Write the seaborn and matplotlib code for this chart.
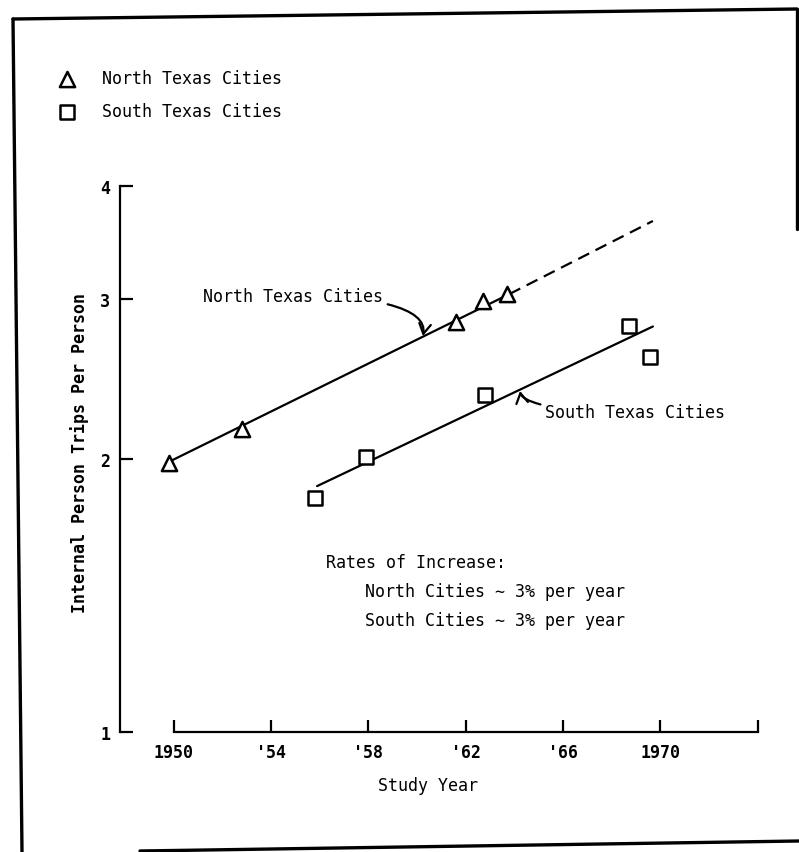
import numpy as np
import pandas as pd
import matplotlib
matplotlib.use("Agg")
import matplotlib.pyplot as plt
from matplotlib.lines import Line2D
from matplotlib.ticker import NullLocator
import seaborn as sns

# ---- data ----
north_years = [1949.8, 1952.8, 1961.6, 1962.7, 1963.7]
north_trips = [1.98, 2.16, 2.83, 2.99, 3.04]
south_years = [1955.8, 1957.9, 1962.8, 1968.7, 1969.6]
south_trips = [1.81, 2.01, 2.35, 2.80, 2.59]

north_fit_years = [1949.8, 1963.8]
north_fit_trips = [1.985, 3.04]
north_proj_years = [1963.8, 1969.7]
north_proj_trips = [3.04, 3.66]
south_fit_years = [1955.9, 1969.7]
south_fit_trips = [1.867, 2.80]

x_ticks = [1950, 1954, 1958, 1962, 1966, 1970, 1974]
x_tick_labels = ["1950", "'54", "'58", "'62", "'66", "1970", ""]
y_ticks = [1, 2, 3, 4]
y_tick_labels = ["1", "2", "3", "4"]

sns.set_style("ticks")
plt.rcParams["font.family"] = ["DejaVu Sans Mono", "DejaVu Sans"]
plt.rcParams["text.color"] = "black"
plt.rcParams["axes.labelcolor"] = "black"
plt.rcParams["xtick.color"] = "black"
plt.rcParams["ytick.color"] = "black"

W, H = 799, 853
fig = plt.figure(figsize=(W / 100, H / 100), dpi=100)
ax = fig.add_axes([120 / W, 1 - 733 / H, 649.7 / W, 546 / H])
ax.set_yscale("log")

north_df = pd.DataFrame({"year": north_years, "trips": north_trips})
south_df = pd.DataFrame({"year": south_years, "trips": south_trips})

lw = 1.6
sns.lineplot(x=north_fit_years, y=north_fit_trips, ax=ax, color="black", lw=lw)
sns.lineplot(x=north_proj_years, y=north_proj_trips, ax=ax, color="black", lw=lw,
             linestyle=(0, (5.5, 3.2)))
sns.lineplot(x=south_fit_years, y=south_fit_trips, ax=ax, color="black", lw=lw)

sns.scatterplot(data=north_df, x="year", y="trips", ax=ax, marker="^", s=120,
                facecolors="white", edgecolor="black", linewidth=1.8,
                label="North Texas Cities", zorder=5)
sns.scatterplot(data=south_df, x="year", y="trips", ax=ax, marker="s", s=100,
                facecolors="white", edgecolor="black", linewidth=1.8,
                label="South Texas Cities", zorder=5)

ax.set_xlim(1947.8, 1974.5)
ax.set_ylim(1, 4)
ax.set_xticks(x_ticks)
ax.set_xticklabels(x_tick_labels, fontweight="bold")
ax.set_yticks(y_ticks)
ax.set_yticklabels(y_tick_labels, fontweight="bold")
ax.yaxis.set_minor_locator(NullLocator())
ax.xaxis.set_minor_locator(NullLocator())

for s in ["top", "right"]:
    ax.spines[s].set_visible(False)
ax.spines["left"].set_bounds(1, 4)
ax.spines["bottom"].set_bounds(1950, 1974)
for s in ["left", "bottom"]:
    ax.spines[s].set_linewidth(1.6)
    ax.spines[s].set_color("black")
ax.tick_params(axis="both", direction="in", length=9, width=1.6,
               labelsize=12, colors="black")
ax.tick_params(axis="x", pad=8)
ax.tick_params(axis="y", pad=7)

ax.set_xlabel("Study Year", fontsize=12)
ax.set_ylabel("Internal Person Trips Per Person", fontsize=12, fontweight="bold")
ax.xaxis.set_label_coords((428 - 120) / 649.7, (733 - 777) / 546)
ax.yaxis.set_label_coords((89 - 120) / 649.7, (733 - 453) / 546)

# legend
leg = ax.legend(loc="upper left", bbox_to_anchor=(58.7 / W, 1 - 70 / H),
                bbox_transform=fig.transFigure, frameon=False, fontsize=12,
                handlelength=1.0, handletextpad=1.6, labelspacing=0.9,
                borderpad=0, borderaxespad=0)
for t in leg.get_texts():
    t.set_color("black")

# annotations
arrow_style = "->,head_length=0.6,head_width=0.35"
ax.annotate("North Texas Cities", xy=(1960.25, 2.733), xytext=(1958.61, 3.025),
            ha="right", va="center", fontsize=12,
            arrowprops=dict(arrowstyle=arrow_style,
                            color="black", lw=1.6,
                            connectionstyle="angle3,angleA=0,angleB=80",
                            shrinkA=1, shrinkB=0))
ax.annotate("South Texas Cities", xy=(1964.24, 2.377), xytext=(1965.27, 2.254),
            ha="left", va="center", fontsize=12,
            arrowprops=dict(arrowstyle=arrow_style,
                            color="black", lw=1.6,
                            connectionstyle="angle3,angleA=0,angleB=-80",
                            shrinkA=1, shrinkB=0))

fig.text(326 / W, 1 - 563 / H, "Rates of Increase:", fontsize=12, va="center")
fig.text(365 / W, 1 - 592 / H, "North Cities \u223c 3% per year", fontsize=12, va="center")
fig.text(365 / W, 1 - 621 / H, "South Cities \u223c 3% per year", fontsize=12, va="center")

# page frame
frame_kw = dict(color="black", lw=2.4, transform=fig.transFigure)
fig.add_artist(Line2D([13 / W, 797 / W], [1 - 20 / H, 1 - 10 / H], **frame_kw))
fig.add_artist(Line2D([13 / W, 22 / W], [1 - 20 / H, 1 - 853 / H], **frame_kw))
fig.add_artist(Line2D([797 / W, 797 / W], [1 - 10 / H, 1 - 230 / H], **frame_kw))
fig.add_artist(Line2D([140 / W, 799 / W], [1 - 852 / H, 1 - 842 / H], **frame_kw))

fig.savefig("out.png", dpi=100)
